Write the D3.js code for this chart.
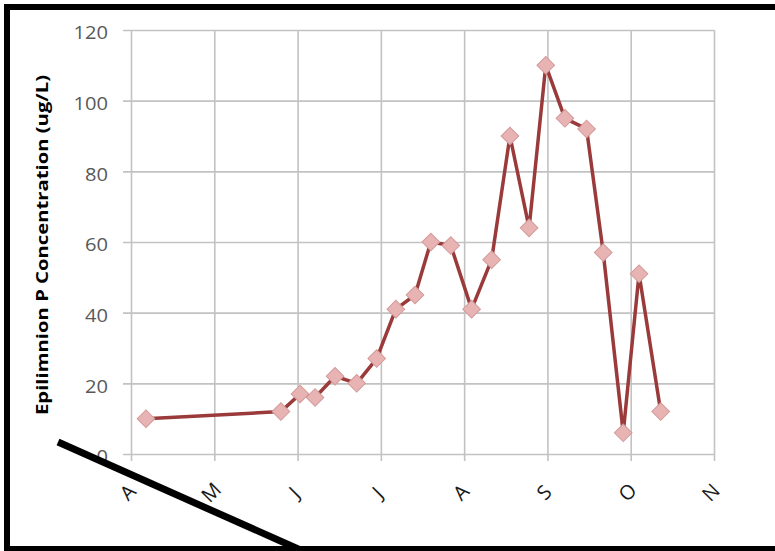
<!DOCTYPE html>
<html>
<head>
<meta charset="utf-8">
<script src="https://cdn.jsdelivr.net/npm/d3@7/dist/d3.min.js"></script>
<style>
  html, body { margin: 0; padding: 0; background: #fff; }
  svg { display: block; }
</style>
</head>
<body>
<script>
// ---- data ----
const monthLabels = ["A", "M", "J", "J", "A", "S", "O", "N"];
const yTicks = [0, 20, 40, 60, 80, 100, 120];
// sampling dates as fractional month position (0 = 1 April)
const samplePos = [0.18, 1.80, 2.03, 2.21, 2.45, 2.71, 2.95, 3.18, 3.41, 3.60, 3.84,
                   4.09, 4.33, 4.55, 4.78, 4.98, 5.21, 5.47, 5.67, 5.91, 6.10, 6.36];
const pConc = [10, 12, 17, 16, 22, 20, 27, 41, 45, 60, 59,
               41, 55, 90, 64, 110, 95, 92, 57, 6, 51, 12];
const yTitle = "Epilimnion P Concentration (ug/L)";

// ---- layout ----
const W = 775, H = 551;
const svg = d3.select("body").append("svg").attr("width", W).attr("height", H);

const x = d3.scaleLinear().domain([0, monthLabels.length - 1]).range([131, 714]);
const y = d3.scaleLinear().domain([0, 120]).range([454, 30]);

const gridColor = "#c2c2c2";

// horizontal gridlines + y labels via axis
const yAxis = d3.axisLeft(y).tickValues(yTicks).tickSizeOuter(0)
  .tickSizeInner(-(x.range()[1] - x.range()[0])).tickPadding(15);
const gy = svg.append("g").attr("transform", `translate(${x.range()[0]},0)`).call(yAxis);
gy.select(".domain").remove();
gy.selectAll(".tick line").attr("x1", -8).attr("stroke", gridColor).attr("stroke-width", 1.6);
gy.selectAll(".tick text")
  .attr("font-family", "'Open Sans', sans-serif")
  .attr("font-size", 17.5)
  .attr("fill", "#595959")
  .attr("x", -23)
  .attr("dy", "0.5em")
  .attr("textLength", d => String(d).length * 11.5)
  .attr("lengthAdjust", "spacingAndGlyphs");

// vertical gridlines + month labels via axis
const xAxis = d3.axisBottom(x).tickValues(d3.range(monthLabels.length))
  .tickFormat(i => monthLabels[i]).tickSizeOuter(0)
  .tickSizeInner(-(y.range()[0] - y.range()[1])).tickPadding(0);
const gx = svg.append("g").attr("transform", `translate(0,${y.range()[0]})`).call(xAxis);
gx.select(".domain").remove();
gx.selectAll(".tick line").attr("y1", 7).attr("stroke", gridColor).attr("stroke-width", 1.6);
gx.selectAll(".tick text")
  .attr("font-family", "'Open Sans', sans-serif")
  .attr("font-size", 20)
  .attr("fill", "#1a1a1a")
  .attr("text-anchor", "middle")
  .attr("y", 0).attr("dy", 0)
  .attr("transform", "translate(-4,38) rotate(-45)")
  .attr("dominant-baseline", "central");

// y title
svg.append("text")
  .attr("transform", "translate(48,245) rotate(-90)")
  .attr("text-anchor", "middle")
  .attr("font-family", "'Open Sans', sans-serif")
  .attr("font-weight", "bold")
  .attr("font-size", 16.5)
  .attr("fill", "#000")
  .attr("textLength", 340)
  .attr("lengthAdjust", "spacingAndGlyphs")
  .text(yTitle);

// series
const pts = samplePos.map((p, i) => [p, pConc[i]]);
svg.append("path")
  .datum(pts)
  .attr("fill", "none")
  .attr("stroke", "#9a3a3a")
  .attr("stroke-width", 3.5)
  .attr("stroke-linejoin", "round")
  .attr("d", d3.line().x(d => x(d[0])).y(d => y(d[1])));

svg.append("g").selectAll("path").data(pts).join("path")
  .attr("d", d3.symbol().type(d3.symbolSquare).size(155))
  .attr("transform", d => `translate(${x(d[0])},${y(d[1])}) rotate(45)`)
  .attr("fill", "#e7b3b3")
  .attr("stroke", "#d49a9a")
  .attr("stroke-width", 1);

// frame
svg.append("rect")
  .attr("x", 7).attr("y", 7).attr("width", 820).attr("height", 542)
  .attr("fill", "none").attr("stroke", "#000").attr("stroke-width", 6);

// diagonal slash
svg.append("line")
  .attr("x1", 58).attr("y1", 442).attr("x2", 305).attr("y2", 552)
  .attr("stroke", "#000").attr("stroke-width", 7);
</script>
</body>
</html>
